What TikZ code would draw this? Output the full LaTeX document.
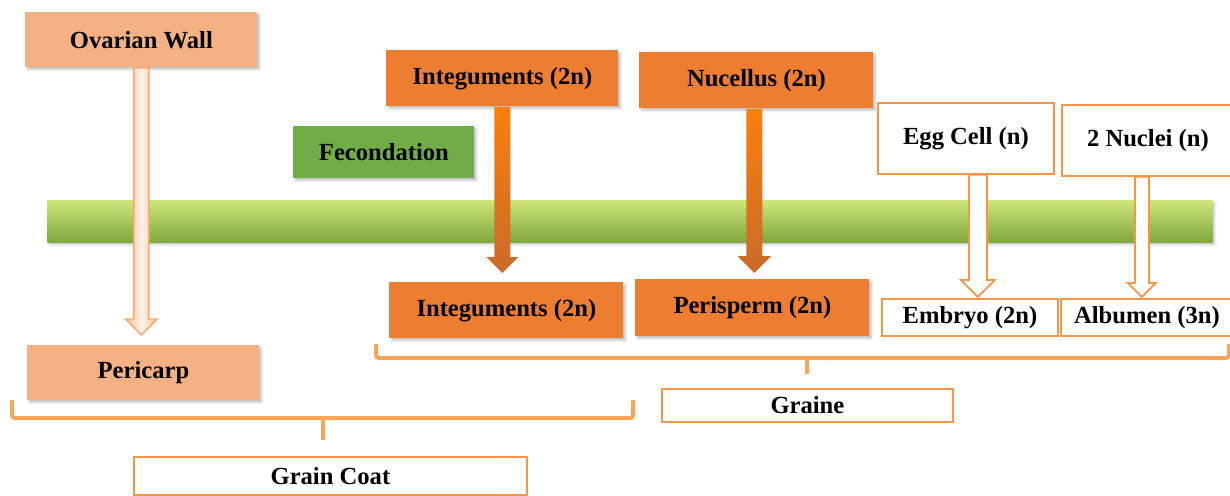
\documentclass[tikz,border=0pt]{standalone}
\usepackage{fontspec}
\setmainfont{Liberation Serif}
\usetikzlibrary{calc,shadows.blur}
\definecolor{paleorange}{HTML}{F4B183}
\definecolor{darkorange}{HTML}{ED7D31}
\definecolor{leafgreen}{HTML}{70AD47}
\definecolor{lineorange}{HTML}{F79646}
\definecolor{braceorange}{HTML}{F8A459}
\definecolor{bartop}{HTML}{CDE67A}
\definecolor{barmid}{HTML}{9DC74C}
\definecolor{barbottom}{HTML}{7FA73D}
\tikzset{
	boxtext/.style={font=\bfseries\fontsize{12.3}{14}\selectfont, text=black, inner sep=0pt, anchor=north west},
	softshadow/.style={blur shadow={shadow xshift=1pt, shadow yshift=-1pt, shadow blur radius=1.2pt, shadow opacity=25}},
	palebox/.style={boxtext, fill=paleorange, softshadow},
	orangebox/.style={boxtext, fill=darkorange, softshadow},
	greenbox/.style={boxtext, fill=leafgreen, softshadow},
	openbox/.style={boxtext, fill=white, draw=lineorange, line width=0.9pt},
	brace/.style={draw=braceorange, line width=2pt, rounded corners=1.5pt},
	paleshaft/.style={draw=lineorange!80, line width=0.7pt, left color=paleorange!90, right color=paleorange!90, middle color=white!85!paleorange},
	fullshaft/.style={top color=orange!75!darkorange, bottom color=darkorange!85!black},
	openshaft/.style={draw=lineorange, fill=white, line width=0.9pt}
}
% block arrow: style, from, to, half shaft, half head
\newcommand{\blockarrow}[5][]{%
	\path[#1] let \p1=(#2), \p2=(#3) in
		(\x1-#4,\y1) -- (\x1+#4,\y1) -- (\x1+#4,\y2+#5) -- (\x1+#5,\y2+#5)
		-- (\x1,\y2) -- (\x1-#5,\y2+#5) -- (\x1-#4,\y2+#5) -- cycle;}

\begin{document}
\begin{tikzpicture}[x=0.5pt,y=-0.5pt]
	\useasboundingbox (0,0) rectangle (1230,495);
	% green time line
	\node[boxtext, minimum width=582.5pt, minimum height=21pt, top color=bartop, middle color=barmid, bottom color=barbottom, softshadow] (bar) at (47,200) {};
	% boxes
	\node[palebox, minimum width=116pt, minimum height=27.5pt] (ow) at (25,12) {Ovarian Wall};
	\node[palebox, minimum width=116pt, minimum height=27.5pt] (peri) at (27,345) {Pericarp};
	\node[greenbox, minimum width=90.5pt, minimum height=26pt] (fec) at (293,126) {Fecondation};
	\node[orangebox, minimum width=116pt, minimum height=28pt] (integ) at (386,50) {Integuments (2n)};
	\node[orangebox, minimum width=117pt, minimum height=28pt] (nuc) at (639,52) {Nucellus (2n)};
	\node[orangebox, minimum width=117pt, minimum height=28pt] (integb) at (389,282) {Integuments (2n)};
	\node[orangebox, minimum width=117pt, minimum height=28.5pt] (peris) at (635,279) {Perisperm (2n)};
	\node[openbox, minimum width=88pt, minimum height=35.5pt] (egg) at (877,102) {Egg Cell (n)};
	\node[openbox, minimum width=86pt, minimum height=35.5pt] (nucl) at (1061,104) {2 Nuclei (n)};
	\node[openbox, minimum width=88pt, minimum height=18.5pt] (emb) at (881,298) {Embryo (2n)};
	\node[openbox, minimum width=86pt, minimum height=18.5pt] (alb) at (1060,298) {Albumen (3n)};
	\node[openbox, minimum width=145.5pt, minimum height=16.5pt] (graine) at (661,388) {Graine};
	\node[openbox, minimum width=196.5pt, minimum height=19pt] (coat) at (133,456) {Grain Coat};
	% arrows
	\blockarrow[paleshaft]{ow.south}{$(peri.north)+(0,-10)$}{3.75pt}{8pt}
	\blockarrow[fullshaft]{integ.south}{$(integb.north)+(0,-9)$}{4pt}{8pt}
	\blockarrow[fullshaft]{$(nuc.south)+(-2,0)$}{$(peris.north)+(0,-6)$}{4pt}{8.5pt}
	\blockarrow[openshaft]{$(egg.south)+(12,0)$}{$(emb.north)+(0,-1)$}{4.5pt}{8.5pt}
	\blockarrow[openshaft]{$(nucl.south)+(-6,0)$}{$(alb.north)+(0,-1)$}{3.5pt}{7pt}
	% brackets
	\draw[brace] (376,344) -- (376,358) -- (1229,358) -- (1229,344);
	\draw[brace] ($(graine.north)+(0,-30)$) -- ($(graine.north)+(0,-14)$);
	\draw[brace] (12,400) -- (12,418) -- (633,418) -- (633,400);
	\draw[brace] ($(coat.north)+(-7,-38)$) -- ($(coat.north)+(-7,-16)$);
\end{tikzpicture}
\end{document}
